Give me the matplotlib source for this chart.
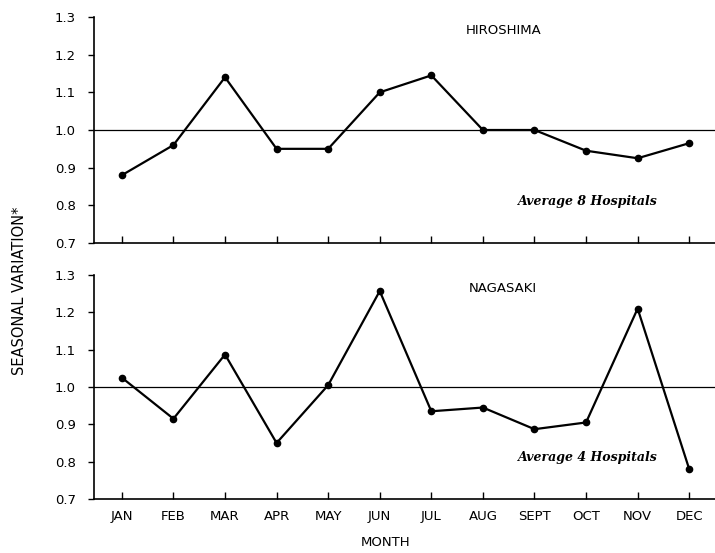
import numpy as np
import matplotlib.pyplot as plt

# data
months = ['JAN', 'FEB', 'MAR', 'APR', 'MAY', 'JUN', 'JUL', 'AUG', 'SEPT', 'OCT', 'NOV', 'DEC']
hiroshima = [0.88, 0.96, 1.14, 0.95, 0.95, 1.10, 1.145, 1.00, 1.00, 0.945, 0.925, 0.965]
nagasaki = [1.025, 0.915, 1.087, 0.85, 1.005, 1.257, 0.935, 0.945, 0.887, 0.905, 1.21, 0.78]
yticks = [0.7, 0.8, 0.9, 1.0, 1.1, 1.2, 1.3]

W, H = 715, 553
fig = plt.figure(figsize=(W / 100, H / 100), dpi=100)

left = 94 / W
ax_top = fig.add_axes([left, 1 - 243 / H, 1 - left, (243 - 17) / H])
ax_bot = fig.add_axes([left, 1 - 499 / H, 1 - left, (499 - 275) / H])

x = np.arange(len(months))
sans = 'DejaVu Sans'
serif = 'DejaVu Serif'

for ax, vals, city, note in [(ax_top, hiroshima, 'HIROSHIMA', 'Average 8 Hospitals'),
                             (ax_bot, nagasaki, 'NAGASAKI', 'Average 4 Hospitals')]:
    ax.axhline(1.0, color='black', lw=0.9)
    ax.plot(x, vals, color='black', lw=1.6, marker='o', ms=4.5, clip_on=False, zorder=3)
    ax.set_xlim(-0.54, 11.5)
    ax.set_ylim(0.7, 1.3)
    ax.set_yticks(yticks)
    ax.set_yticklabels([f'{v:.1f}' for v in yticks], fontsize=9.5, family=sans)
    ax.set_xticks(x)
    ax.spines['top'].set_visible(False)
    ax.spines['right'].set_visible(False)
    ax.spines['left'].set_linewidth(1.2)
    ax.spines['bottom'].set_linewidth(1.2)
    ax.tick_params(axis='y', direction='out', length=4, width=1, pad=9)
    ax.tick_params(axis='x', direction='in', length=5, width=1, pad=8)
    ax.text(0.659, 0.94, city, transform=ax.transAxes, ha='center', va='center',
            fontsize=9.5, family=sans)
    ax.text(0.795, 0.185, note, transform=ax.transAxes, ha='center', va='center',
            fontsize=9, family=serif, style='italic', weight='bold')

ax_top.set_xticklabels([])
ax_bot.set_xticklabels(months, fontsize=9.5, family=sans)

fig.text(386 / W, 1 - 542 / H, 'MONTH', ha='center', va='center', fontsize=9.5, family=sans)
fig.text(20 / W, 1 - 291 / H, 'SEASONAL VARIATION*', ha='center', va='center',
         rotation=90, fontsize=10.5, family=sans)

fig.savefig('out.png', dpi=100)
